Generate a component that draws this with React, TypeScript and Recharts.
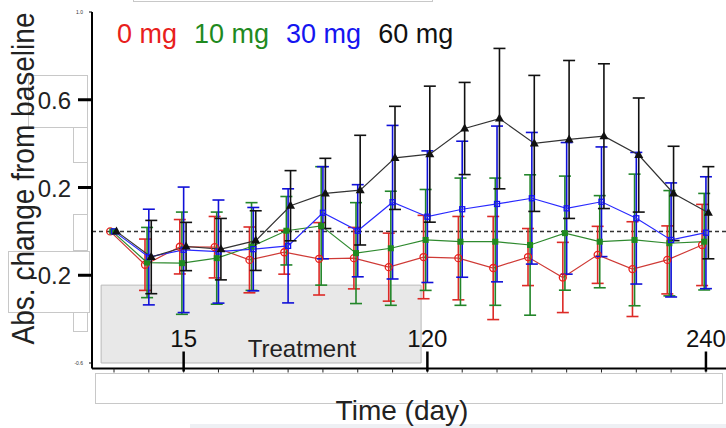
import React from 'react';
import { LineChart, Line, XAxis, YAxis, ReferenceLine, ReferenceArea, ErrorBar, Legend } from 'recharts';

// visit index along the time axis, only some get a day label
const visits = [0, 1, 2, 3, 4, 5, 6, 7, 8, 9, 10, 11, 12, 13, 14, 15, 16, 17];
const dayLabels = ['', '', '15', '', '', '', '', '', '', '120', '', '', '', '', '', '', '', '240'];
const yTicks = [1.0, 0.6, 0.2, -0.2, -0.6];
const tinyYTicks = [1.0, -0.6];

const doseNames = ['0 mg', '10 mg', '30 mg', '60 mg'];

const mean0 = [0, -0.152, -0.07, -0.072, -0.13, -0.095, -0.125, -0.122, -0.163, -0.117, -0.122, -0.167, -0.117, -0.21, -0.107, -0.172, -0.13, -0.062];
const err0 = [0, 0.117, 0.124, 0.14, 0.15, 0.1, 0.165, 0.14, 0.155, 0.19, 0.19, 0.235, 0.13, 0.16, 0.13, 0.216, 0.155, 0.185];

const mean10 = [0, -0.142, -0.145, -0.122, -0.069, 0.003, 0.025, -0.099, -0.077, -0.039, -0.047, -0.047, -0.062, -0.008, -0.047, -0.039, -0.054, -0.047];
const err10 = [0, 0.16, 0.233, 0.21, 0.2, 0.156, 0.27, 0.23, 0.26, 0.23, 0.29, 0.29, 0.32, 0.26, 0.21, 0.3, 0.24, 0.22];

const mean30 = [0, -0.117, -0.084, -0.092, -0.081, -0.066, 0.085, 0.003, 0.133, 0.067, 0.101, 0.125, 0.151, 0.105, 0.135, 0.06, -0.039, -0.006];
const err30 = [0, 0.218, 0.286, 0.235, 0.19, 0.26, 0.21, 0.21, 0.35, 0.3, 0.31, 0.355, 0.3, 0.3, 0.25, 0.3, 0.26, 0.255];

const mean60 = [0, -0.117, -0.069, -0.081, -0.042, 0.117, 0.173, 0.188, 0.335, 0.352, 0.469, 0.514, 0.401, 0.419, 0.434, 0.348, 0.173, 0.085];
const err60 = [0, 0.167, 0.11, 0.14, 0.136, 0.16, 0.16, 0.25, 0.235, 0.31, 0.21, 0.32, 0.31, 0.36, 0.33, 0.26, 0.215, 0.21];

const FONT = '"Liberation Sans", Arial, sans-serif';

const series = [
  { name: doseNames[0], mean: mean0, err: err0, color: '#e8201c', line: '#cf3a36', bar: '#dd2a26', shift: -0.11, marker: 'circle' },
  { name: doseNames[1], mean: mean10, err: err10, color: '#1f8a1f', line: '#2f8a2f', bar: '#23862a', shift: -0.05, marker: 'square' },
  { name: doseNames[2], mean: mean30, err: err30, color: '#1515f0', line: '#2a2aff', bar: '#1010d8', shift: 0, marker: 'openSquare' },
  { name: doseNames[3], mean: mean60, err: err60, color: '#111111', line: '#333333', bar: '#111111', shift: 0.07, marker: 'triangle' },
];

// small dodge so the bars of each dose don't sit on top of each other
const rowsFor = (s: any) => visits.map((v, i) => ({ x: v + s.shift, v: s.mean[i], e: s.err[i] }));

const makeDot = (kind: string, color: string) => (props: any) => {
  const { cx, cy, index } = props;
  const k = `${kind}-${index}`;
  if (cx == null || cy == null) return <g key={k} />;
  if (kind === 'circle') return <circle key={k} cx={cx} cy={cy} r={3.5} fill="none" stroke={color} strokeWidth={1.3} />;
  if (kind === 'square') return <rect key={k} x={cx - 3} y={cy - 3} width={6} height={6} fill={color} />;
  if (kind === 'openSquare') return <rect key={k} x={cx - 2.5} y={cy - 2.5} width={5} height={5} fill="none" stroke={color} strokeWidth={1.3} />;
  return <polygon key={k} points={`${cx},${cy - 5} ${cx - 4.5},${cy + 3} ${cx + 4.5},${cy + 3}`} fill={color} />;
};

const XTick = (props: any) => {
  const { x, y, payload } = props;
  const label = dayLabels[payload.value];
  return (
    <g>
      <line x1={x} x2={x} y1={y} y2={y + 4} stroke="#222" strokeWidth={1} />
      {label ? <line x1={x} x2={x} y1={y - 17} y2={y + 3} stroke="#000" strokeWidth={2.5} /> : null}
      {label ? (
        <text x={x} y={y - 22} textAnchor="middle" fontSize={24} fontFamily={FONT} fill="#111">{label}</text>
      ) : null}
    </g>
  );
};

const YTick = (props: any) => {
  const { x, y, payload } = props;
  const v = payload.value;
  const txt = v.toFixed(1);
  if (tinyYTicks.includes(v)) {
    return (
      <g>
        <line x1={x - 3} x2={x} y1={y} y2={y} stroke="#000" strokeWidth={1} />
        <text x={x - 9} y={y + 2} textAnchor="end" fontSize={5} fontFamily={FONT} fill="#333">{txt}</text>
      </g>
    );
  }
  return (
    <g>
      <line x1={x - 14} x2={x} y1={y} y2={y} stroke="#000" strokeWidth={3} />
      <text x={x - 21} y={y + 9} textAnchor="end" fontSize={24} fontFamily={FONT} fill="#222">{txt}</text>
    </g>
  );
};

const renderLegend = (items: any[]) => (
  <div style={{ display: 'flex', gap: 17, fontFamily: FONT, fontSize: 27, lineHeight: '30px', whiteSpace: 'nowrap' }}>
    {items.map((p: any) => (
      <span key={p.value} style={{ color: p.color }}>{p.value}</span>
    ))}
  </div>
);

const outline = (left: number, top: number, width: number, height: number, extra: any = {}) => ({
  position: 'absolute' as const, left, top, width, height, border: '1px solid #c8c8c8', boxSizing: 'border-box' as const, ...extra,
});

const App = () => {
  return (
    <div style={{ position: 'absolute', left: 0, top: 0, width: 726, height: 428, background: '#fff', overflow: 'hidden' }}>
      {/* leftover text-box frames from the original slide */}
      <div style={outline(133, -6, 300, 8)} />
      <div style={outline(28, 75, 60, 53)} />
      <div style={outline(73, 127, 15, 36)} />
      <div style={outline(73, 162, 15, 53, { borderLeft: 'none' })} />
      <div style={outline(73, 214, 15, 37)} />
      <div style={outline(8, 251, 82, 62)} />
      <div style={outline(73, 312, 15, 20)} />
      <div style={outline(95, 373, 628, 31)} />
      <div style={{ position: 'absolute', left: 190, top: 424, width: 536, height: 4, background: '#eef0f4' }} />

      <LineChart width={726} height={428} margin={{ top: 12, right: 0, bottom: 0, left: 0 }} style={{ position: 'absolute', left: 0, top: 0 }}>
        <ReferenceArea
          x1={-0.37}
          x2={8.82}
          y1={-0.6}
          y2={-0.245}
          fill="#e8e8e8"
          fillOpacity={1}
          stroke="#b9b9b9"
          strokeWidth={1}
          ifOverflow="visible"
          label={() => (
            <text x={302} y={357} textAnchor="middle" fontSize={24} fontFamily={FONT} fill="#222">Treatment</text>
          )}
        />
        <XAxis
          type="number"
          dataKey="x"
          domain={[-0.632, 17.576]}
          ticks={visits}
          allowDataOverflow
          height={59.5}
          tickSize={0}
          tickMargin={0}
          tickLine={false}
          axisLine={{ stroke: '#000', strokeWidth: 2 }}
          tick={<XTick />}
          interval={0}
          label={() => (
            <text x={402} y={420} textAnchor="middle" fontSize={28} fontFamily={FONT} fill="#222">Time (day)</text>
          )}
        />
        <YAxis
          type="number"
          domain={[-0.625, 1.0]}
          ticks={yTicks}
          allowDataOverflow
          width={92}
          tickSize={0}
          tickMargin={0}
          tickLine={false}
          axisLine={{ stroke: '#000', strokeWidth: 2 }}
          tick={<YTick />}
          interval={0}
          label={() => (
            <text
              x={34}
              y={178.5}
              transform="rotate(-90 34 178.5)"
              textAnchor="middle"
              fontSize={31}
              fontFamily={FONT}
              fill="#222"
              textLength={332}
              lengthAdjust="spacingAndGlyphs"
            >
              Abs. change from baseline
            </text>
          )}
        />
        <ReferenceLine y={0} stroke="#333" strokeWidth={1.5} strokeDasharray="4 3" />
        {series.map((s) => (
          <Line
            key={s.name}
            name={s.name}
            data={rowsFor(s)}
            dataKey="v"
            type="linear"
            stroke={s.line}
            strokeWidth={1.2}
            dot={makeDot(s.marker, s.color)}
            activeDot={false}
            legendType="none"
            isAnimationActive={false}
          >
            <ErrorBar dataKey="e" direction="y" width={6} stroke={s.bar} strokeWidth={1.6} />
          </Line>
        ))}
        <Legend
          layout="horizontal"
          verticalAlign="middle"
          align="center"
          content={() => renderLegend(series.map((s) => ({ value: s.name, color: s.color })))}
          wrapperStyle={{ position: 'absolute', top: 19, left: 117, width: 400, height: 30 }}
        />
      </LineChart>
    </div>
  );
};

export default App;
